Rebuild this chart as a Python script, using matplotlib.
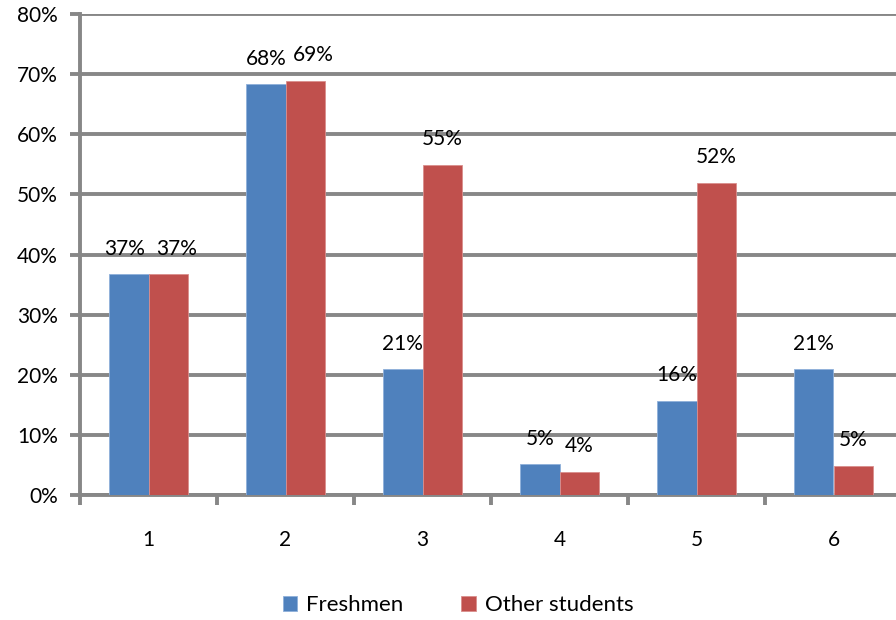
import matplotlib
matplotlib.use("Agg")
import matplotlib.pyplot as plt
import numpy as np

plt.rcParams['font.family'] = ['Lato', 'DejaVu Sans']

categories = ["1", "2", "3", "4", "5", "6"]
freshmen = [36.7, 68.3, 20.9, 5.1, 15.7, 20.9]
other_students = [36.7, 68.9, 54.9, 3.9, 51.9, 4.8]
yticks = [0, 10, 20, 30, 40, 50, 60, 70, 80]

BLUE = "#4F81BD"
RED = "#C0504D"
GRID = "#878787"
FS = 15

fig = plt.figure(figsize=(8.96, 6.2), dpi=100)
ax = fig.add_axes([80 / 896, 125 / 620, 822 / 896, 481 / 620])

x = np.arange(len(categories))
w = 1 / 3.5
ax.bar(x - w / 2, freshmen, w, color=BLUE, edgecolor="#8FB0DA", linewidth=0.6,
       label="Freshmen", zorder=3)
ax.bar(x + w / 2, other_students, w, color=RED, edgecolor="#DA8E8C", linewidth=0.6,
       label="Other students", zorder=3)

# small horizontal nudges where neighbouring labels would collide
nudge_f = {0: -3, 1: 0}
nudge_o = {0: 6, 1: 6}
for i, v in enumerate(freshmen):
    ax.annotate(f"{v:.0f}%", (x[i] - w / 2, v), xytext=(nudge_f.get(i, 0), 18.5),
                textcoords="offset points", ha="center", va="center", fontsize=FS, zorder=4)
for i, v in enumerate(other_students):
    ax.annotate(f"{v:.0f}%", (x[i] + w / 2, v), xytext=(nudge_o.get(i, 0), 18.5),
                textcoords="offset points", ha="center", va="center", fontsize=FS, zorder=4)

ax.set_xlim(-0.5, len(categories) - 0.5)
ax.set_ylim(0, 80)
ax.set_yticks(yticks)
ax.set_yticklabels([f"{t}%" for t in yticks], fontsize=FS)
ax.yaxis.grid(True, color=GRID, linewidth=2.8, zorder=0)
ax.set_axisbelow(True)

ax.set_xticks(x)
ax.set_xticklabels(categories, fontsize=FS)
ax.set_xticks(np.arange(len(categories) + 1) - 0.5, minor=True)
ax.tick_params(axis="x", which="major", length=0, pad=25)
ax.tick_params(axis="x", which="minor", length=7, width=2.8, color=GRID, direction="out")
ax.tick_params(axis="y", length=7, width=2.8, color=GRID, direction="out", pad=9)

for s in ["top", "right"]:
    ax.spines[s].set_visible(False)
for s in ["left", "bottom"]:
    ax.spines[s].set_color(GRID)
    ax.spines[s].set_linewidth(2.8)

handles, labels = ax.get_legend_handles_labels()
fig.legend(handles, labels, loc="center", bbox_to_anchor=(458 / 896, 1 - 605 / 620),
           ncol=2, frameon=False, fontsize=16, handlelength=0.65, handleheight=0.65,
           handletextpad=0.4, columnspacing=2.6)

fig.savefig("out.png", dpi=100)
